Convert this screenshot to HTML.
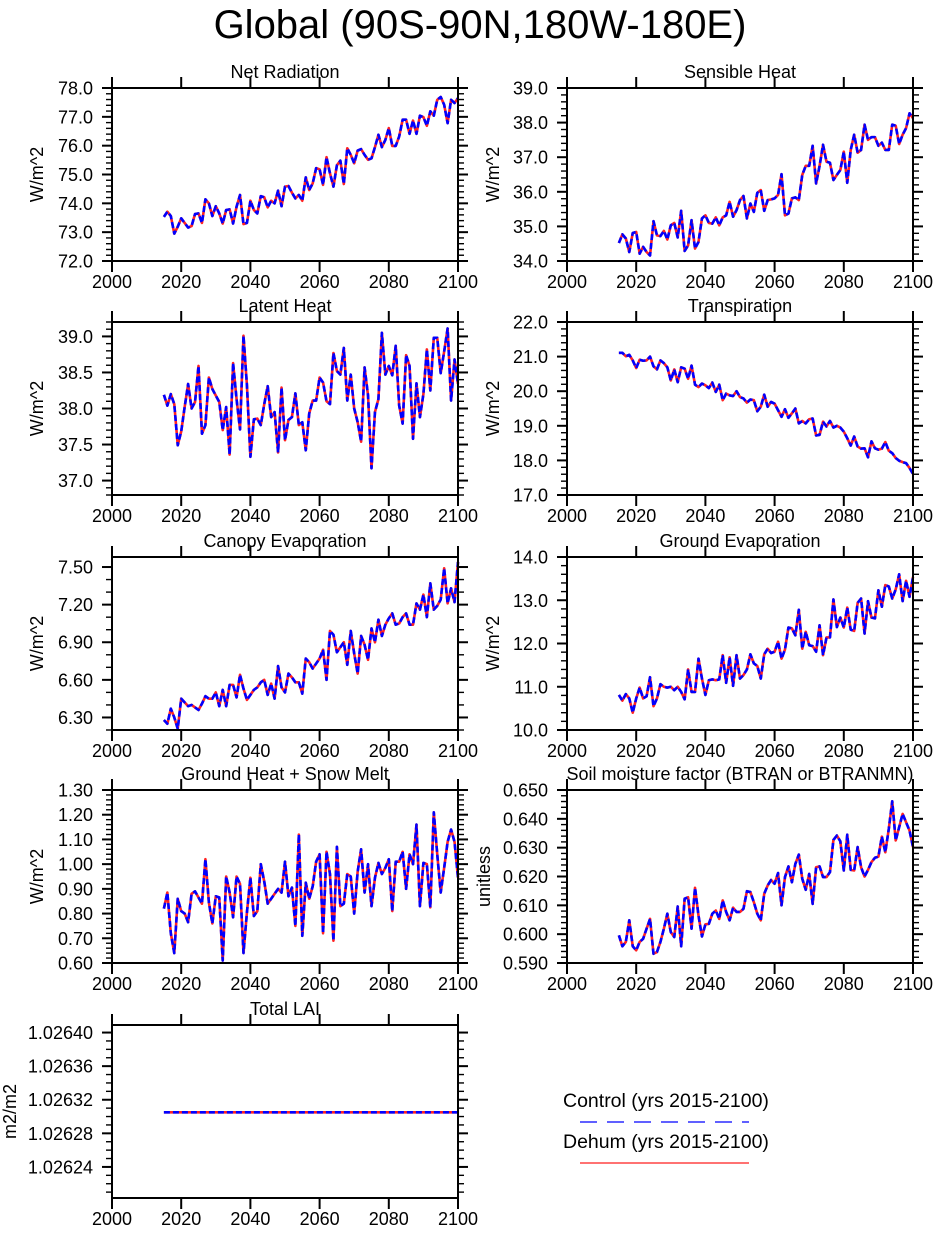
<!DOCTYPE html>
<html><head><meta charset="utf-8">
<style>
html,body{margin:0;padding:0;background:#fff;}
svg{display:block;font-family:"Liberation Sans",Arial,sans-serif;}
</style></head>
<body>
<svg id="fig" width="933" height="1233" viewBox="0 0 933 1233">
<text x="480" y="38" font-size="40" text-anchor="middle">Global (90S-90N,180W-180E)</text>
<g>
<text x="563" y="1107" font-size="19.5">Control (yrs 2015-2100)</text>
<line x1="580" y1="1122" x2="749" y2="1122" stroke="#0000ff" stroke-width="1.2" stroke-dasharray="17 10"/>
<text x="563" y="1148" font-size="19.5">Dehum (yrs 2015-2100)</text>
<line x1="580" y1="1163" x2="749" y2="1163" stroke="#ff4444" stroke-width="1.5"/>
</g>
</svg>
<script>
const years = [];
for (let y = 2015; y <= 2100; y++) years.push(y);
const xTicks = [2000, 2020, 2040, 2060, 2080, 2100];

const netRad = [73.53,73.71,73.56,72.95,73.19,73.48,73.32,73.16,73.21,73.63,73.65,73.32,74.14,74.00,73.56,73.90,73.65,73.30,73.77,73.79,73.30,73.88,74.29,73.28,73.32,74.09,73.77,73.65,74.25,74.21,73.86,74.09,74.00,74.44,73.90,74.58,74.60,74.37,74.17,74.29,74.09,74.90,74.46,74.69,75.22,75.18,74.64,75.60,75.04,74.58,75.32,75.48,74.67,75.91,75.68,75.39,75.83,75.88,75.68,75.51,75.56,75.95,76.38,75.95,76.20,76.61,75.99,75.99,76.32,76.90,76.90,76.41,76.87,76.41,77.04,76.99,76.69,77.19,77.04,77.59,77.69,77.42,76.78,77.59,77.48,77.65];
const sensible = [34.52,34.77,34.65,34.26,34.81,34.84,34.21,34.41,34.26,34.16,35.15,34.74,34.72,34.87,34.62,35.03,35.10,34.68,35.45,34.29,34.45,35.18,34.36,34.55,35.23,35.32,35.10,35.08,35.26,35.03,35.26,35.32,35.71,35.28,35.47,35.76,35.88,35.23,35.66,35.42,35.97,36.05,35.45,35.76,35.78,35.81,35.91,36.51,35.32,35.37,35.81,35.84,35.76,36.49,36.75,36.75,37.33,36.24,36.75,37.36,36.87,36.84,36.34,36.49,36.63,37.16,36.26,37.21,37.65,37.13,37.21,37.94,37.50,37.58,37.58,37.33,37.42,37.21,37.21,37.94,37.91,37.38,37.65,37.84,38.27,38.13];
const latent = [38.19,38.04,38.20,38.06,37.49,37.68,38.02,38.34,38.00,38.09,38.59,37.65,37.77,38.43,38.27,38.18,38.09,37.70,38.02,37.36,38.63,38.13,37.71,39.01,38.32,37.33,37.85,37.86,37.77,38.06,38.31,37.88,37.95,37.39,38.29,37.56,37.84,37.88,38.21,37.77,37.81,37.42,37.93,38.11,38.11,38.43,38.36,38.10,38.06,38.77,38.52,38.47,38.84,38.11,38.47,38.00,37.81,37.54,38.57,38.18,37.17,37.95,38.13,39.05,38.47,38.59,38.46,38.87,38.04,37.79,38.74,38.59,37.58,38.35,37.88,38.20,38.82,38.25,38.98,38.98,38.49,38.79,39.11,38.11,38.68,38.34];
const transp = [21.11,21.11,21.01,21.05,20.89,20.67,20.91,20.88,20.89,21.00,20.72,20.63,20.89,20.81,20.69,20.31,20.63,20.26,20.69,20.65,20.36,20.74,20.19,20.12,20.22,20.17,20.09,20.25,19.98,20.19,19.74,19.93,19.88,19.86,20.00,19.83,19.79,19.67,19.76,19.74,19.42,19.55,19.90,19.55,19.69,19.64,19.45,19.26,19.48,19.23,19.36,19.50,19.07,19.14,19.07,19.19,19.21,18.72,18.74,19.12,18.98,19.14,18.95,19.00,18.95,18.83,18.64,18.43,18.69,18.40,18.34,18.35,18.09,18.55,18.35,18.31,18.34,18.53,18.28,18.21,18.07,17.99,17.95,17.92,17.78,17.61];
const canopy = [6.28,6.25,6.37,6.30,6.21,6.45,6.42,6.39,6.40,6.38,6.36,6.41,6.47,6.45,6.45,6.50,6.39,6.52,6.39,6.56,6.56,6.46,6.64,6.53,6.44,6.48,6.52,6.54,6.58,6.60,6.48,6.57,6.45,6.71,6.54,6.50,6.65,6.62,6.58,6.58,6.49,6.77,6.74,6.69,6.73,6.77,6.84,6.60,6.99,6.96,6.82,6.86,6.90,6.72,6.99,6.81,6.65,6.95,6.88,6.76,7.01,6.90,7.08,6.95,7.04,7.09,7.13,7.04,7.05,7.10,7.13,7.04,7.04,7.21,7.16,7.28,7.10,7.37,7.16,7.19,7.24,7.49,7.21,7.33,7.22,7.54];
const groundEvap = [10.81,10.68,10.83,10.73,10.40,10.73,10.98,10.73,10.78,11.22,10.55,10.73,11.06,11.00,10.98,11.00,10.92,11.00,10.88,10.71,11.40,10.88,10.88,11.65,11.19,10.81,11.15,11.17,11.15,11.17,11.73,11.09,11.68,11.02,11.73,11.19,11.27,11.40,11.75,11.54,11.48,11.19,11.75,11.88,11.78,11.81,12.04,11.65,11.86,12.37,12.35,12.19,12.78,11.88,12.27,11.96,11.94,11.81,12.42,11.73,12.14,12.14,13.02,12.38,12.60,12.37,12.83,12.32,12.29,12.94,13.04,12.23,12.98,12.60,12.58,13.23,12.85,13.35,13.32,13.04,13.25,13.60,12.98,13.45,13.08,13.54];
const groundHeat = [0.82,0.885,0.72,0.64,0.86,0.81,0.80,0.765,0.88,0.89,0.865,0.84,1.02,0.845,0.76,0.87,0.865,0.61,0.95,0.885,0.785,0.95,0.92,0.64,0.805,0.945,0.79,0.81,1.00,0.93,0.84,0.86,0.88,0.90,0.885,1.01,0.87,0.905,0.75,1.12,0.71,0.925,0.86,0.91,1.01,1.04,0.72,1.05,0.96,0.69,1.07,0.83,0.84,0.96,0.95,0.80,0.97,1.06,0.885,1.00,0.83,0.945,1.005,0.96,0.985,1.02,0.81,1.01,1.01,1.05,0.90,1.04,1.00,1.16,0.83,1.005,1.00,0.825,1.21,1.04,0.885,0.985,1.09,1.14,1.09,0.945];
const btran = [0.5996,0.5958,0.5973,0.6048,0.5958,0.5944,0.5973,0.5984,0.6019,0.6053,0.5932,0.5938,0.5973,0.6019,0.6071,0.6007,0.5990,0.6096,0.5958,0.6123,0.6128,0.6019,0.6161,0.6065,0.5992,0.6034,0.6036,0.6071,0.6082,0.6053,0.6117,0.6077,0.6048,0.6092,0.6077,0.6077,0.6088,0.6149,0.6146,0.6111,0.6071,0.6048,0.6140,0.6169,0.6188,0.6175,0.6212,0.6100,0.6198,0.6235,0.6180,0.6244,0.6276,0.6192,0.6154,0.6209,0.6105,0.6232,0.6235,0.6198,0.6198,0.6215,0.6327,0.6342,0.6322,0.6221,0.6345,0.6223,0.6221,0.6302,0.6232,0.6200,0.6223,0.6250,0.6265,0.6269,0.6338,0.6284,0.6365,0.6461,0.6325,0.6371,0.6417,0.6388,0.6359,0.6302];
const lai = years.map(() => 1.026305);

const panels = [
 {name:'net-radiation', title:'Net Radiation', unit:'W/m^2', data:netRad, x0:112, y0:88, ymin:72, ymax:78, major:1, minor:0.2, dec:1, utx:37},
 {name:'sensible-heat', title:'Sensible Heat', unit:'W/m^2', data:sensible, x0:567, y0:88, ymin:34, ymax:39, major:1, minor:0.2, dec:1, utx:493},
 {name:'latent-heat', title:'Latent Heat', unit:'W/m^2', data:latent, x0:112, y0:322, ymin:36.8, ymax:39.2, major:0.5, minor:0.1, dec:1, utx:37, mstart:37},
 {name:'transpiration', title:'Transpiration', unit:'W/m^2', data:transp, x0:567, y0:322, ymin:17, ymax:22, major:1, minor:0.2, dec:1, utx:493},
 {name:'canopy-evaporation', title:'Canopy Evaporation', unit:'W/m^2', data:canopy, x0:112, y0:557, ymin:6.2, ymax:7.58, major:0.3, minor:0.1, dec:2, utx:37, mstart:6.3},
 {name:'ground-evaporation', title:'Ground Evaporation', unit:'W/m^2', data:groundEvap, x0:567, y0:557, ymin:10, ymax:14, major:1, minor:0.2, dec:1, utx:493},
 {name:'ground-heat-snow-melt', title:'Ground Heat + Snow Melt', unit:'W/m^2', data:groundHeat, x0:112, y0:790, ymin:0.6, ymax:1.3, major:0.1, minor:0.02, dec:2, utx:37},
 {name:'soil-moisture-factor', title:'Soil moisture factor (BTRAN or BTRANMN)', unit:'unitless', data:btran, x0:567, y0:790, ymin:0.59, ymax:0.65, major:0.01, minor:0.002, dec:3, utx:484},
 {name:'total-lai', title:'Total LAI', unit:'m2/m2', data:lai, x0:112, y0:1025, ymin:1.026203, ymax:1.026409, major:0.00004, minor:0.00001, dec:5, utx:10, mstart:1.02624, mend:1.0264}
];
const W = 346, H = 173;
const FS = 18;
const NS = 'http://www.w3.org/2000/svg';
const svg = document.getElementById('fig');
function mk(tag, attrs, parent) {
  const e = document.createElementNS(NS, tag);
  for (const k in attrs) e.setAttribute(k, attrs[k]);
  parent.appendChild(e);
  return e;
}
panels.forEach(p => {
  const g = mk('g', {}, svg);
  
  
  const xs = v => p.x0 + (v - 2000) / 100 * W;
  const ys = v => p.y0 + H - (v - p.ymin) / (p.ymax - p.ymin) * H;
  const eps = 1e-9;
  const mStart = Math.ceil((p.ymin - eps) / p.minor) * p.minor;
  for (let v = mStart; v <= p.ymax + eps; v += p.minor) {
    const y = ys(v);
    const t1 = mk('line', {x1:p.x0-6, x2:p.x0, y1:y, y2:y, stroke:'#000', 'stroke-width':1.4}, g);
    
    
    const t2 = mk('line', {x1:p.x0+W, x2:p.x0+W+6, y1:y, y2:y, stroke:'#000', 'stroke-width':1.4}, g);
    
    
  }
  const ms = p.mstart !== undefined ? p.mstart : Math.ceil((p.ymin - eps) / p.major) * p.major;
  const me = p.mend !== undefined ? p.mend : p.ymax;
  for (let i = 0; ms + i * p.major <= me + 1e-9; i++) {
    const v = ms + i * p.major;
    const y = ys(v);
    const a = mk('line', {x1:p.x0-10, x2:p.x0, y1:y, y2:y, stroke:'#000', 'stroke-width':2}, g);
    
    
    const b = mk('line', {x1:p.x0+W, x2:p.x0+W+10, y1:y, y2:y, stroke:'#000', 'stroke-width':2}, g);
    
    
    const t = mk('text', {x:p.x0-19, y:y+6.5, 'font-size':FS, 'text-anchor':'end'}, g);
    t.textContent = v.toFixed(p.dec);
    
    
  }
  xTicks.forEach(v => {
    const x = xs(v);
    const a = mk('line', {x1:x, x2:x, y1:p.y0-11, y2:p.y0, stroke:'#000', 'stroke-width':2}, g);
    
    
    const b = mk('line', {x1:x, x2:x, y1:p.y0+H, y2:p.y0+H+11, stroke:'#000', 'stroke-width':2}, g);
    
    
    const t = mk('text', {x:x, y:p.y0+H+27, 'font-size':FS, 'text-anchor':'middle'}, g);
    t.textContent = String(v);
    
    
  });
  const pts = p.data.map((v, i) => xs(years[i]).toFixed(2) + ',' + ys(v).toFixed(2)).join(' ');
  const r = mk('polyline', {points:pts, fill:'none', stroke:'#ff2222', 'stroke-width':2.6, 'stroke-linejoin':'round'}, g);
  
  
  const bl = mk('polyline', {points:pts, fill:'none', stroke:'#0000ff', 'stroke-width':2.6, 'stroke-dasharray':'6 3', 'stroke-linejoin':'round'}, g);
  
  
  const f = mk('rect', {x:p.x0, y:p.y0, width:W, height:H, fill:'none', stroke:'#000', 'stroke-width':2}, g);
  
  
  const tt = mk('text', {x:p.x0+W/2, y:p.y0-10, 'font-size':FS, 'text-anchor':'middle'}, g);
  tt.textContent = p.title;
  
  
  const cy = p.y0 + H/2;
  const ux = p.utx + 6;
  const ut = mk('text', {x:ux, y:cy, 'font-size':FS, 'text-anchor':'middle', transform:'rotate(-90 '+ux+' '+cy+')'}, g);
  ut.textContent = p.unit;
  
  
});
</script>
</body></html>
